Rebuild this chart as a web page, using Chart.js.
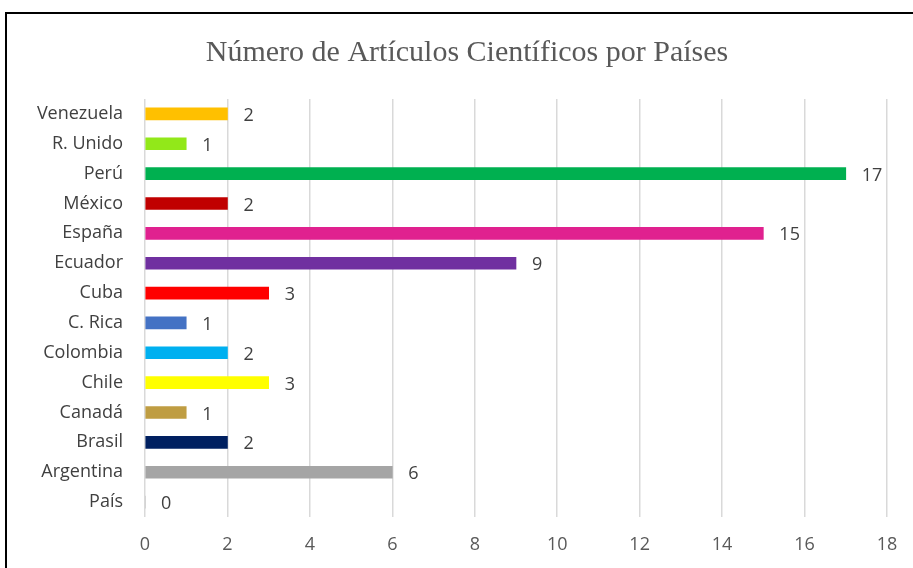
<!DOCTYPE html>
<html>
<head>
<meta charset="utf-8">
<script src="https://cdn.jsdelivr.net/npm/chart.js@4.4.1/dist/chart.umd.min.js"></script>
<style>
  html, body { margin: 0; padding: 0; background: #fff; }
  #frame { position: absolute; left: 5px; top: 12px; width: 1000px; height: 1000px; border: 2px solid #000; box-sizing: border-box; }
  #wrap { position: absolute; left: 0; top: 0; width: 913px; height: 568px; }
</style>
</head>
<body>
<div id="frame"></div>
<div id="wrap"><canvas id="chart" width="913" height="568"></canvas></div>
<script>
// Datos (de arriba hacia abajo)
const paises = ['Venezuela', 'R. Unido', 'Perú', 'México', 'España', 'Ecuador', 'Cuba',
  'C. Rica', 'Colombia', 'Chile', 'Canadá', 'Brasil', 'Argentina', 'País'];
const articulos = [2, 1, 17, 2, 15, 9, 3, 1, 2, 3, 1, 2, 6, 0];
const colores = ['#ffc000', '#92e819', '#00b050', '#c00000', '#e0218f', '#7030a0', '#ff0000',
  '#4472c4', '#00b0f0', '#ffff00', '#bf9d42', '#002060', '#a5a5a5', '#a5a5a5'];
const ticksX = [0, 2, 4, 6, 8, 10, 12, 14, 16, 18];

// Etiquetas de valor al final de cada barra
const etiquetasValor = {
  id: 'etiquetasValor',
  afterDatasetsDraw(chart) {
    const ctx = chart.ctx;
    const meta = chart.getDatasetMeta(0);
    ctx.save();
    ctx.font = '18px "Open Sans"';
    ctx.fillStyle = '#404040';
    ctx.textAlign = 'left';
    ctx.textBaseline = 'middle';
    meta.data.forEach((bar, i) => {
      ctx.fillText(String(articulos[i]), bar.x + 16, bar.y + 2);
    });
    ctx.restore();
  }
};

new Chart(document.getElementById('chart').getContext('2d'), {
  type: 'bar',
  data: {
    labels: paises,
    datasets: [{
      data: articulos,
      backgroundColor: colores,
      barThickness: 12,
      borderWidth: 0
    }]
  },
  options: {
    indexAxis: 'y',
    responsive: false,
    animation: false,
    layout: { padding: { left: 21, right: 0, top: 0, bottom: 0 } },
    plugins: {
      legend: { display: false },
      tooltip: { enabled: false },
      title: {
        display: true,
        text: 'Número de Artículos Científicos por Países',
        color: '#595959',
        font: { family: '"Liberation Serif", "DejaVu Serif", serif', size: 30, weight: 'normal' },
        padding: { top: 35, bottom: 28 }
      }
    },
    scales: {
      x: {
        min: 0, max: 18,
        afterBuildTicks: (axis) => { axis.ticks = ticksX.map(v => ({ value: v })); },
        grid: { color: '#d9d9d9', lineWidth: 1.5, drawTicks: false },
        border: { display: false },
        ticks: { color: '#595959', font: { family: '"Open Sans"', size: 18 }, padding: 17 },
        afterFit: (axis) => { axis.height = 51; axis.paddingRight = 26; }
      },
      y: {
        grid: { display: false },
        border: { display: false },
        ticks: { color: '#404040', font: { family: '"Open Sans"', size: 18 }, padding: 14, autoSkip: false },
        afterFit: (axis) => { axis.width = 124; }
      }
    }
  },
  plugins: [etiquetasValor]
});
</script>
</body>
</html>
